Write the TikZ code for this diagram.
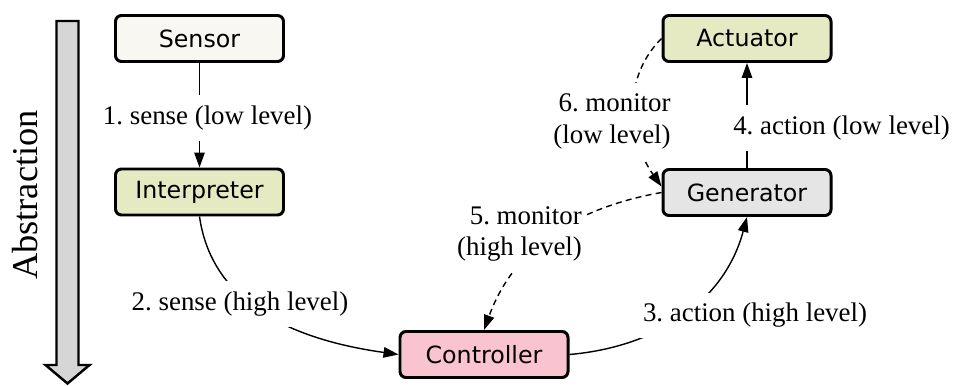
\documentclass[tikz,border=0pt]{standalone}
\usepackage{fontspec}
\setmainfont{Liberation Serif}
\newfontfamily\boxfont{DejaVu Sans}
\usetikzlibrary{arrows.meta}
\frenchspacing

\definecolor{creamfill}{HTML}{F8F7F1}
\definecolor{olivefill}{HTML}{E5EAC3}
\definecolor{pinkfill}{HTML}{F9C3CF}
\definecolor{grayfill}{HTML}{E5E5E5}
\definecolor{arrowgray}{HTML}{D6D6D6}

\begin{document}
\begin{tikzpicture}[>={Triangle[length=3mm, width=2.1mm]},
    stage/.style={draw, line width=1.7pt, rounded corners=0.12cm,
        minimum width=3.36cm, minimum height=0.92cm,
        font=\boxfont\fontsize{13.5}{16}\selectfont},
    lbl/.style={fill=white, inner xsep=2pt, inner ysep=6pt,
        font=\fontsize{15.3}{18}\selectfont},
    flow/.style={->, line width=0.8pt},
    watch/.style={flow, dash pattern=on 1.2mm off 0.85mm}]
    \useasboundingbox (0,0) rectangle (19.08,7.7);

    \draw[line width=1.4pt, fill=arrowgray] (1.13,7.28) -- (1.57,7.28) -- (1.57,0.40)
        -- (1.79,0.40) -- (1.35,0.03) -- (0.91,0.40) -- (1.13,0.40) -- cycle;
    \node[rotate=90, font=\fontsize{20.7}{24}\selectfont] (abstr) at (0.5,3.8) {Abstraction};

    \node[stage, fill=creamfill] (sensor) at (3.99,6.93) {Sensor};
    \node[stage, fill=olivefill] (interp) at (3.99,3.86) {Interpreter};
    \node[stage, fill=pinkfill] (ctrl) at (9.68,0.61) {Controller};
    \node[stage, fill=grayfill] (gen) at (14.94,3.85) {Generator};
    \node[stage, fill=olivefill] (act) at (14.94,6.93) {Actuator};

    \draw[flow] (sensor) -- (interp);
    \draw[flow] (interp.south) to[out=-82, in=172] (ctrl.west);
    \draw[flow] (ctrl.east) to[out=5, in=-105] (gen.south);
    \draw[flow] (gen) -- (act);
    \draw[watch] (gen.west) to[out=190, in=70] (ctrl.north);
    \draw[watch] (act.west) to[out=225, in=125] (gen.176);

    \node[lbl] (sense1) at (4.15,5.34) {1. sense (low level)};
    \node[lbl] (sense2) at (4.80,1.62) {2. sense (high level)};
    \node[lbl] (action3) at (15.10,1.39) {3. action (high level)};
    \node[lbl] (action4) at (16.83,5.14) {4. action (low level)};
    \node[lbl, align=right] (monitor5) at (10.39,3.02) {5. monitor\\(high level)};
    \node[lbl, align=right] (monitor6) at (12.24,5.27) {6. monitor\\(low level)};
\end{tikzpicture}
\end{document}
